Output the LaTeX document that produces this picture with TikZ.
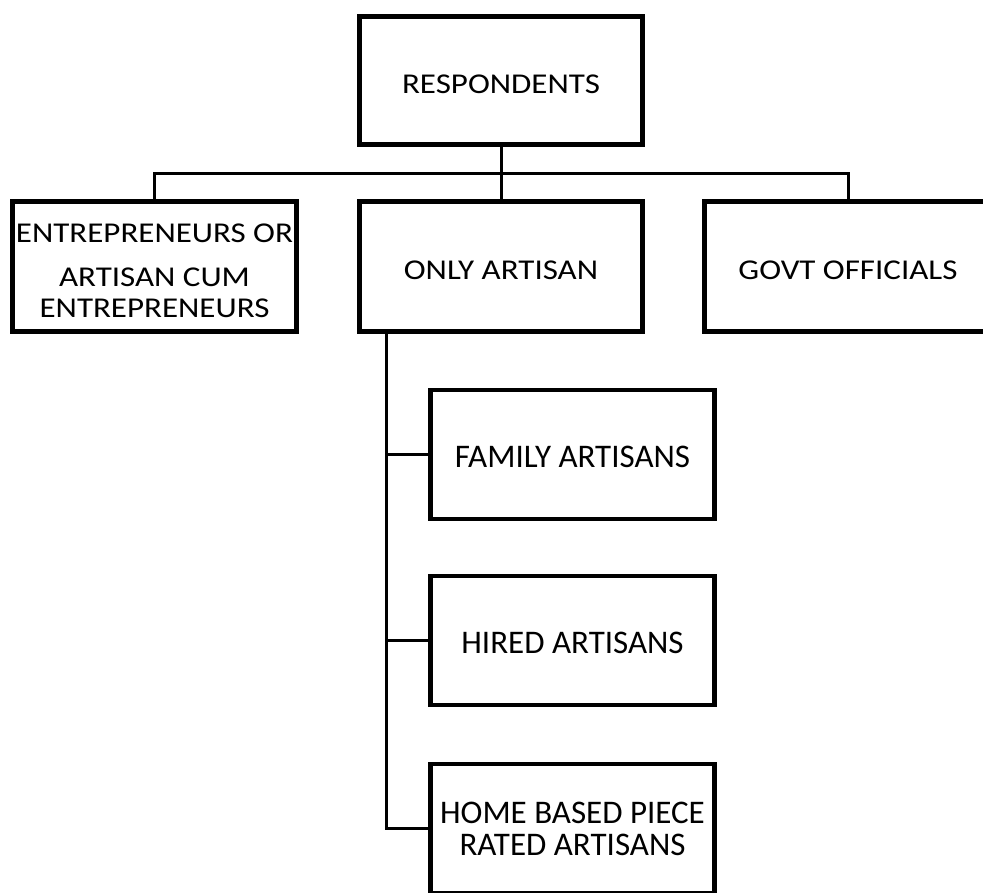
\documentclass[tikz,border=0pt]{standalone}
\usepackage{fontspec}
\setmainfont{Carlito}
\usepackage{graphicx}
\usetikzlibrary{calc}
\begin{document}
\begin{tikzpicture}[x=1pt,y=-1pt,
  box/.style={draw=black, line width=4.5pt, inner sep=0pt, align=center,
    minimum width=284pt, minimum height=129pt,
    font=\fontsize{33}{32}\selectfont},
  conn/.style={draw=black, line width=3pt}]
\useasboundingbox (0,0) rectangle (983,892);
\newcommand{\lowr}[2]{\raisebox{-#1}[\height][\depth]{#2}}
\newcommand{\sq}[1]{\scalebox{1}[0.87]{#1}}
\node[box, minimum width=283pt, minimum height=128pt] (R) at (501,80.5) {\lowr{4pt}{\sq{RESPONDENTS}}};
\node[box, minimum height=130pt] (E) at (154.5,266.5) {\lowr{7pt}{\sq{\renewcommand{\arraystretch}{1.1}\begin{tabular}{@{}c@{}}ENTREPRENEURS OR\\[16pt]ARTISAN CUM\\ENTREPRENEURS\end{tabular}}}};
\node[box, minimum width=283pt, minimum height=130pt] (O) at (501,266.5) {\lowr{4pt}{\sq{ONLY ARTISAN}}};
\node[box, minimum width=287pt, minimum height=130pt] (G) at (848,266.5) {\lowr{4pt}{\sq{GOVT OFFICIALS}}};
\node[box] (F) at (572.5,454.5) {\lowr{2pt}{FAMILY ARTISANS}};
\node[box] (H) at (572.5,640.5) {\lowr{2pt}{HIRED ARTISANS}};
\node[box] (P) at (572.5,828.5) {HOME BASED PIECE\\RATED ARTISANS};
\coordinate (bus) at (501,173);
\coordinate (v) at ($(O.south west)+(29,0)$);
\draw[conn] (R.south) -- (O.north);
\draw[conn] (E.north) |- (bus) -| (G.north);
\draw[conn] (v) |- (F.west);
\draw[conn] (v) |- (H.west);
\draw[conn] (v) |- (P.west);
\end{tikzpicture}
\end{document}
